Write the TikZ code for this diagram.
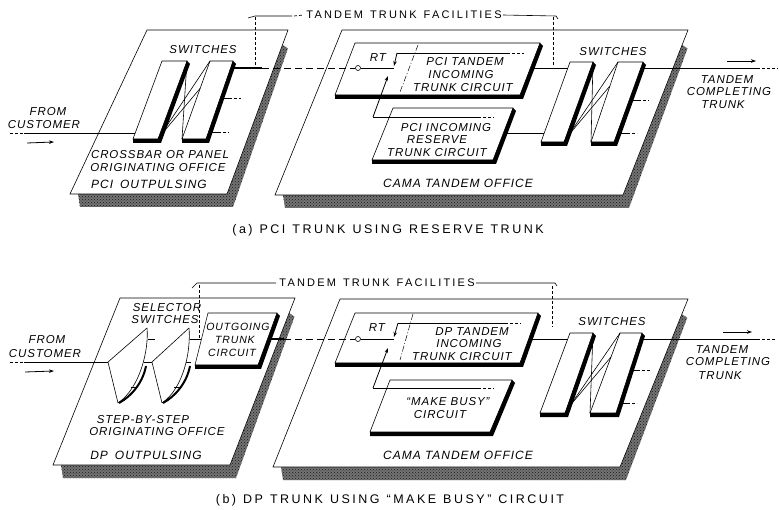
\documentclass[tikz,border=0pt]{standalone}
\usepackage{fontspec}
\setmainfont{Liberation Sans}
\newfontfamily\lblfont[LetterSpace=8]{Liberation Sans}
\newfontfamily\capfont[LetterSpace=20]{Liberation Sans}
\usetikzlibrary{calc,arrows.meta,patterns}
\newcommand\drawpbox[4]{%
  \fill[black] (#4) -- (#3) -- (#2) -- ($(#2)+(3,3)$) -- ($(#3)+(3,4)$) -- ($(#4)+(0,4)$) -- cycle;
  \draw[thinl] (#3) -- (#4) -- (#1) -- (#2) -- (#3);}
\newcommand\drawoffice[4]{%
  \fill[offshadow] ($(#4)+(8,0)$) -- (#3) -- ($(#2)!0.09!(#3)$) -- ($(#2)!0.1!(#3)+(6,2)$) -- ($(#3)+(6,13)$) -- ($(#4)+(10,13)$) -- cycle;
  \draw[thinl,fill=white] (#1) -- (#2) -- (#3) -- (#4) -- cycle;}
\newcommand\wsp{\hspace{7pt}}
\begin{document}
\begin{tikzpicture}[x=1pt,y=-1pt,
  thinl/.style={line width=0.6pt},
  trunkl/.style={line width=1.1pt},
  offshadow/.style={fill=black!55,postaction={pattern=crosshatch dots,pattern color=black!90}},
  dashl/.style={line width=0.9pt,dash pattern=on 7pt off 4pt},
  ddl/.style={line width=0.5pt,dash pattern=on 6pt off 2pt on 1pt off 2pt},
  sdash/.style={line width=0.7pt,dash pattern=on 3pt off 2pt},
  arr/.style={-{Stealth[length=5pt,width=3.5pt]},line width=0.8pt},
  lbl/.style={font=\lblfont\itshape\fontsize{11.5}{13}\selectfont,inner sep=0pt},
  biglbl/.style={font=\lblfont\itshape\fontsize{12}{13}\selectfont,inner sep=0pt},
  smlbl/.style={font=\lblfont\itshape\fontsize{10.5}{12}\selectfont,inner sep=0pt},
  captxt/.style={font=\capfont\fontsize{12.5}{14}\selectfont,inner sep=0pt},
  brtxt/.style={font=\capfont\fontsize{11}{12}\selectfont,inner sep=0pt},
  rtc/.style={circle,draw,line width=0.6pt,fill=white,inner sep=0pt,minimum size=5pt}]
\useasboundingbox (0,0) rectangle (779,510);
% ================= PANEL (a) =================
\coordinate (LOa1) at (147,30); \coordinate (LOa2) at (288,30);
\coordinate (LOa3) at (227,194); \coordinate (LOa4) at (70,194);
\drawoffice{LOa1}{LOa2}{LOa3}{LOa4}
\coordinate (COa1) at (342,30); \coordinate (COa2) at (688,30);
\coordinate (COa3) at (623,195); \coordinate (COa4) at (275,195);
\drawoffice{COa1}{COa2}{COa3}{COa4}
% left switches
\coordinate (Sa1) at (162,61); \coordinate (Sa2) at (187,61); \coordinate (Sa3) at (158,139); \coordinate (Sa4) at (133,139);
\drawpbox{Sa1}{Sa2}{Sa3}{Sa4}
\coordinate (Ta1) at (210,61); \coordinate (Ta2) at (233,61); \coordinate (Ta3) at (206,139); \coordinate (Ta4) at (182,139);
\drawpbox{Ta1}{Ta2}{Ta3}{Ta4}
\draw[thinl] (Sa2) -- (Ta4);
\draw[thinl] (Sa3) -- (Ta1);
\draw[thinl] ($(Sa3)+(3,-4)$) -- ($(Ta1)!0.35!(Ta4)$);
% tandem boxes
\coordinate (Ba1) at (355,43); \coordinate (Ba2) at (540,43); \coordinate (Ba3) at (520,95); \coordinate (Ba4) at (335,95);
\drawpbox{Ba1}{Ba2}{Ba3}{Ba4}
\coordinate (Ra1) at (393,108); \coordinate (Ra2) at (513,108); \coordinate (Ra3) at (493,160); \coordinate (Ra4) at (372,160);
\drawpbox{Ra1}{Ra2}{Ra3}{Ra4}
% right switches
\coordinate (Ua1) at (570,62); \coordinate (Ua2) at (593,62); \coordinate (Ua3) at (564,142); \coordinate (Ua4) at (541,142);
\drawpbox{Ua1}{Ua2}{Ua3}{Ua4}
\coordinate (Va1) at (618,62); \coordinate (Va2) at (643,62); \coordinate (Va3) at (614,142); \coordinate (Va4) at (591,142);
\drawpbox{Va1}{Va2}{Va3}{Va4}
\draw[thinl] (Ua2) -- (Va4);
\draw[thinl] (Ua3) -- (Va1);
\draw[thinl] ($(Ua3)+(3,-5)$) -- ($(Va1)!0.3!(Va4)$);
% input
\coordinate (ina0) at (10,133); \coordinate (ina1) at (24,133); \coordinate (ina2) at (135,133);
\draw[sdash] (ina0) -- (ina1);
\draw[thinl] (ina1) -- (ina2);
\coordinate (fa0) at (27,143); \coordinate (fa1) at (54,142);
\draw[arr] (fa0) -- (fa1);
% trunk
\node[rtc] (rta) at (358,68) {};
\coordinate (tka0) at (231,68); \coordinate (tka1) at (262,68);
\draw[trunkl] (tka0) -- (tka1);
\draw[dashl] (tka1) -- (rta.west);
\coordinate (tka2) at (394,68);
\draw[thinl] (rta.east) -- (tka2);
\coordinate (tka3) at (531,68); \coordinate (tka4) at (568,68);
\draw[thinl] (tka3) -- (tka4);
\coordinate (rsa0) at (504,133); \coordinate (rsa1) at (544,133);
\draw[thinl] (rsa0) -- (rsa1);
% inner lines of boxes
\coordinate (ia0) at (397,53); \coordinate (ia1) at (507,53); \coordinate (ia2) at (524,53);
\draw[thinl] (ia0) -- (ia1); \draw[sdash] (ia1) -- (ia2);
\draw[arr] (ia0) -- (394,66);
\draw[ddl] (418,45) -- (400,92);
\coordinate (ja0) at (373,117); \coordinate (ja1) at (478,117); \coordinate (ja2) at (494,117);
\draw[thinl] (ja0) -- (ja1); \draw[sdash] (ja1) -- (ja2);
\draw[arr] (ja0) -- (388,76);
% left switch outputs
\draw[thinl] (221,98) -- (232,98); \draw[sdash] (234,98) -- (241,98);
\draw[thinl] (209,132) -- (221,132); \draw[sdash] (223,132) -- (229,132);
% right switch outputs
\coordinate (oa0) at (641,68); \coordinate (oa1) at (757,68); \coordinate (oa2) at (778,68);
\draw[thinl] (oa0) -- (oa1); \draw[sdash] (oa1) -- (oa2);
\draw[thinl] (630,100) -- (641,100); \draw[sdash] (643,100) -- (649,100);
\draw[thinl] (618,133) -- (630,133); \draw[sdash] (632,133) -- (637,133);
\draw[arr] (727,61) -- (756,61);
% bracket
\node[brtxt] (tfa) at (404,15) {TANDEM\wsp TRUNK\wsp FACILITIES};
\coordinate (bra0) at (248,18); \coordinate (bra1) at (255,16);
\draw[thinl] (bra0) -- (bra1) -- (292,16);
\draw[sdash] (294,16) -- ($(tfa.west)+(-3,0)$);
\draw[thinl] ($(tfa.east)+(1,0)$) -- (556,16) -- (558,19);
\draw[sdash,line width=0.5pt] (255,17) -- (255,66);
\draw[sdash,line width=0.5pt] (553,17) -- (553,65);
% texts (a)
\node[lbl] at (203,50) {SWITCHES};
\node[lbl] at (613,52) {SWITCHES};
\node[lbl] at (48,112) {FROM};
\node[lbl] at (44,125) {CUSTOMER};
\node[lbl] at (160,155) {CROSSBAR OR PANEL};
\node[lbl] at (158,168) {ORIGINATING OFFICE};
\node[biglbl] at (149,184) {PCI\wsp OUTPULSING};
\node[lbl] at (378,58) {RT};
\node[lbl] at (465,62) {PCI TANDEM};
\node[lbl] at (461,75) {INCOMING};
\node[lbl] at (463,88) {TRUNK CIRCUIT};
\node[lbl] at (446,128) {PCI INCOMING};
\node[lbl] at (437,140) {RESERVE};
\node[lbl] at (437,153) {TRUNK CIRCUIT};
\node[biglbl] at (458,183) {CAMA TANDEM OFFICE};
\node[lbl] at (727,80) {TANDEM};
\node[lbl] at (729,92) {COMPLETING};
\node[lbl] at (723,105) {TRUNK};
\node[captxt] at (388,230) {(a)\wsp PCI\wsp TRUNK\wsp USING\wsp RESERVE\wsp TRUNK};
% ================= PANEL (b) =================
\coordinate (LOb1) at (120,298); \coordinate (LOb2) at (295,298);
\coordinate (LOb3) at (230,465); \coordinate (LOb4) at (53,465);
\drawoffice{LOb1}{LOb2}{LOb3}{LOb4}
\coordinate (COb1) at (340,299); \coordinate (COb2) at (688,299);
\coordinate (COb3) at (620,467); \coordinate (COb4) at (273,467);
\drawoffice{COb1}{COb2}{COb3}{COb4}
% cones
\coordinate (Ka) at (108,362); \coordinate (Kb) at (147,328); \coordinate (Kc) at (118,403);
\draw[thinl] (Kb) -- (Ka) -- (Kc);
\draw[thinl] (Kb) .. controls (149,350) and (140,388) .. (Kc);
\draw[line width=2pt] (146,366) .. controls (143,382) and (132,396) .. ($(Kc)+(1,0)$);
\coordinate (La) at (152,362); \coordinate (Lb) at (189,328); \coordinate (Lc) at (162,403);
\draw[thinl] (Lb) -- (La) -- (Lc);
\draw[thinl] (Lb) .. controls (191,350) and (184,388) .. (Lc);
\draw[line width=2pt] (190,366) .. controls (187,382) and (176,396) .. ($(Lc)+(1,0)$);
\draw[thinl] (148,339) -- (155,339);
\draw[thinl] (131,387) -- (137,387);
\draw[thinl] (186,362) -- (191,362);
\draw[thinl] (174,387) -- (180,387);
% outgoing trunk box
\coordinate (Ob1) at (208,313); \coordinate (Ob2) at (277,313); \coordinate (Ob3) at (258,365); \coordinate (Ob4) at (195,365);
\drawpbox{Ob1}{Ob2}{Ob3}{Ob4}
% input (b)
\coordinate (inb0) at (10,362); \coordinate (inb1) at (24,362);
\draw[sdash] (inb0) -- (inb1);
\draw[thinl] (inb1) -- (Ka);
\draw[thinl] (144,362) -- (La);
\draw[thinl] (190,339) -- (201,339);
\coordinate (fb0) at (25,372); \coordinate (fb1) at (54,371);
\draw[arr] (fb0) -- (fb1);
% tandem boxes (b)
\coordinate (Bb1) at (355,313); \coordinate (Bb2) at (538,313); \coordinate (Bb3) at (520,363); \coordinate (Bb4) at (335,363);
\drawpbox{Bb1}{Bb2}{Bb3}{Bb4}
\coordinate (Mb1) at (390,380); \coordinate (Mb2) at (512,380); \coordinate (Mb3) at (490,432); \coordinate (Mb4) at (370,432);
\drawpbox{Mb1}{Mb2}{Mb3}{Mb4}
% right switches (b)
\coordinate (Ub1) at (570,333); \coordinate (Ub2) at (593,333); \coordinate (Ub3) at (565,413); \coordinate (Ub4) at (540,413);
\drawpbox{Ub1}{Ub2}{Ub3}{Ub4}
\coordinate (Vb1) at (620,333); \coordinate (Vb2) at (642,333); \coordinate (Vb3) at (616,413); \coordinate (Vb4) at (590,413);
\drawpbox{Vb1}{Vb2}{Vb3}{Vb4}
\draw[thinl] (Ub2) -- (Vb4);
\draw[thinl] (Ub3) -- (Vb1);
\draw[thinl] ($(Ub3)+(3,-5)$) -- ($(Vb1)!0.3!(Vb4)$);
% trunk (b)
\node[rtc] (rtb) at (358,339) {};
\coordinate (tkb0) at (268,339); \coordinate (tkb1) at (284,339);
\draw[trunkl] (tkb0) -- (tkb1);
\draw[dashl] (tkb1) -- (rtb.west);
\coordinate (tkb2) at (394,339);
\draw[thinl] (rtb.east) -- (tkb2);
\coordinate (tkb3) at (529,339); \coordinate (tkb4) at (568,339);
\draw[thinl] (tkb3) -- (tkb4);
% inner (b)
\coordinate (ib0) at (398,323); \coordinate (ib1) at (505,323); \coordinate (ib2) at (521,323);
\draw[thinl] (ib0) -- (ib1); \draw[sdash] (ib1) -- (ib2);
\draw[arr] (ib0) -- (394,337);
\draw[ddl] (413,314) -- (400,360);
\coordinate (jb0) at (373,388); \coordinate (jb1) at (478,388); \coordinate (jb2) at (494,388);
\draw[thinl] (jb0) -- (jb1); \draw[sdash] (jb1) -- (jb2);
\draw[arr] (jb0) -- (388,348);
% outputs (b)
\coordinate (ob0) at (640,339); \coordinate (ob1) at (757,339); \coordinate (ob2) at (776,339);
\draw[thinl] (ob0) -- (ob1); \draw[sdash] (ob1) -- (ob2);
\draw[thinl] (630,370) -- (640,370); \draw[sdash] (642,370) -- (650,370);
\draw[thinl] (619,403) -- (630,403); \draw[sdash] (632,403) -- (637,403);
\draw[arr] (723,332) -- (752,332);
% bracket (b)
\node[brtxt] (tfb) at (377,283) {TANDEM\wsp TRUNK\wsp FACILITIES};
\draw[thinl] (192,288) -- (197,283) -- ($(tfb.west)+(-3,0)$);
\draw[thinl] ($(tfb.east)+(1,0)$) -- (555,283) -- (557,286);
\draw[sdash,line width=0.5pt] (199,285) -- (199,338);
\draw[sdash,line width=0.5pt] (552,286) -- (552,327);
% texts (b)
\node[lbl] at (167,308) {SELECTOR};
\node[lbl] at (165,320) {SWITCHES};
\node[lbl] at (47,340) {FROM};
\node[lbl] at (45,354) {CUSTOMER};
\node[smlbl] at (238,327) {OUTGOING};
\node[smlbl] at (235,340) {TRUNK};
\node[smlbl] at (232,353) {CIRCUIT};
\node[lbl] at (143,420) {STEP-BY-STEP};
\node[lbl] at (157,432) {ORIGINATING OFFICE};
\node[biglbl] at (146,455) {DP\wsp OUTPULSING};
\node[lbl] at (377,328) {RT};
\node[lbl] at (472,332) {DP TANDEM};
\node[lbl] at (469,344) {INCOMING};
\node[lbl] at (462,357) {TRUNK CIRCUIT};
\node[lbl] at (448,402) {“MAKE BUSY”};
\node[lbl] at (440,415) {CIRCUIT};
\node[biglbl] at (458,455) {CAMA TANDEM OFFICE};
\node[lbl] at (612,322) {SWITCHES};
\node[lbl] at (722,350) {TANDEM};
\node[lbl] at (728,362) {COMPLETING};
\node[lbl] at (720,376) {TRUNK};
\node[captxt] at (390,500) {(b)\wsp DP\wsp TRUNK\wsp USING\wsp “MAKE\wsp BUSY”\wsp CIRCUIT};
\end{tikzpicture}
\end{document}
